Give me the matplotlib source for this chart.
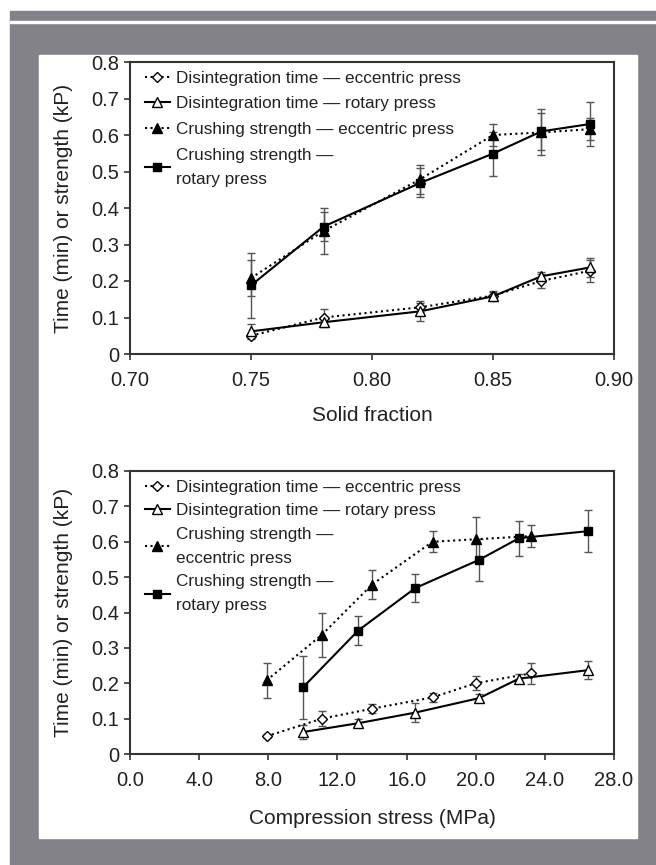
import matplotlib.pyplot as plt
from matplotlib.patches import Rectangle

plt.rcParams['font.family'] = ['Liberation Sans', 'DejaVu Sans']

# solid fraction (top panel)
solid_fraction = [0.75, 0.78, 0.82, 0.85, 0.87, 0.89]

# compression stress (bottom panel), eccentric vs rotary press
stress_ecc = [7.9, 11.1, 14.0, 17.5, 20.0, 23.2]
stress_rot = [10.0, 13.2, 16.5, 20.2, 22.5, 26.5]

dis_ecc = [0.05, 0.10, 0.128, 0.16, 0.20, 0.228]
dis_ecc_err = [0.006, 0.022, 0.012, 0.012, 0.02, 0.03]
dis_rot = [0.062, 0.087, 0.117, 0.158, 0.213, 0.237]
dis_rot_err = [0.02, 0.012, 0.027, 0.012, 0.012, 0.025]
crush_ecc = [0.208, 0.337, 0.479, 0.600, 0.607, 0.616]
crush_ecc_err = [0.05, 0.062, 0.04, 0.03, 0.063, 0.03]
crush_rot = [0.188, 0.349, 0.469, 0.549, 0.610, 0.630]
crush_rot_err = [0.09, 0.04, 0.04, 0.06, 0.05, 0.06]

labels_top = ['Disintegration time \u2014 eccentric press',
              'Disintegration time \u2014 rotary press',
              'Crushing strength \u2014 eccentric press',
              'Crushing strength \u2014\nrotary press']
labels_bot = ['Disintegration time \u2014 eccentric press',
              'Disintegration time \u2014 rotary press',
              'Crushing strength \u2014\neccentric press',
              'Crushing strength \u2014\nrotary press']

W, H = 656, 865
fig = plt.figure(figsize=(W / 100, H / 100), dpi=100)

gray = '#838289'
def px_rect(x0, y0, x1, y1, color, z):
    fig.patches.append(Rectangle((x0 / W, 1 - y1 / H), (x1 - x0) / W, (y1 - y0) / H,
                                 transform=fig.transFigure, color=color, zorder=z))

px_rect(10, 11, 656, 865, gray, -3)
px_rect(10, 21, 656, 23, 'white', -2)
px_rect(39, 55, 637, 838, 'white', -2)

err_color = '#555555'


def draw(ax, x_ecc, x_rot, labels, spacing):
    styles = [
        (x_ecc, dis_ecc, dis_ecc_err, ':', 'D', 'white', 5),
        (x_rot, dis_rot, dis_rot_err, '-', '^', 'white', 7),
        (x_ecc, crush_ecc, crush_ecc_err, ':', '^', 'black', 7),
        (x_rot, crush_rot, crush_rot_err, '-', 's', 'black', 6),
    ]
    for (x, y, e, ls, m, fc, ms), lab in zip(styles, labels):
        ax.errorbar(x, y, yerr=e, fmt='none', ecolor=err_color, elinewidth=1.0,
                    capsize=3, capthick=1.0, zorder=2)
        ax.plot(x, y, linestyle=ls, color='black', lw=1.5, marker=m, ms=ms,
                mfc=fc, mec='black', mew=1.0, label=lab, zorder=3)
    ax.set_ylim(0, 0.8)
    ax.set_yticks([0, 0.1, 0.2, 0.3, 0.4, 0.5, 0.6, 0.7, 0.8])
    ax.set_yticklabels(['0', '0.1', '0.2', '0.3', '0.4', '0.5', '0.6', '0.7', '0.8'])
    ax.set_ylabel('Time (min) or strength (kP)', fontsize=15, labelpad=13,
                  color='#222222')
    ax.tick_params(labelsize=14.5, direction='out', length=4, width=1.2, color='#333333',
                   labelcolor='#222222')
    ax.tick_params(axis='x', pad=8)
    ax.tick_params(axis='y', pad=4)
    for s in ax.spines.values():
        s.set_linewidth(1.5)
        s.set_color('#333333')
    leg = ax.legend(loc='upper left', frameon=False, fontsize=12.3, handlelength=1.45,
                    handletextpad=0.35, labelspacing=spacing, borderaxespad=0.2,
                    bbox_to_anchor=(0.01, 1.005))
    for t in leg.get_texts():
        t.set_color('#222222')
        t.set_linespacing(1.75)


ax1 = fig.add_axes([130 / W, 1 - 354 / H, (614 - 130) / W, (354 - 62) / H])
draw(ax1, solid_fraction, solid_fraction, labels_top, 0.62)
ax1.set_xlim(0.70, 0.90)
ax1.set_xticks([0.70, 0.75, 0.80, 0.85, 0.90])
ax1.set_xticklabels(['0.70', '0.75', '0.80', '0.85', '0.90'])
ax1.set_xlabel('Solid fraction', fontsize=15, labelpad=12, color='#222222')

ax2 = fig.add_axes([130 / W, 1 - 754 / H, (614 - 130) / W, (754 - 471) / H])
draw(ax2, stress_ecc, stress_rot, labels_bot, 0.5)
ax2.set_xlim(0, 28)
ax2.set_xticks([0, 4, 8, 12, 16, 20, 24, 28])
ax2.set_xticklabels(['0.0', '4.0', '8.0', '12.0', '16.0', '20.0', '24.0', '28.0'])
ax2.set_xlabel('Compression stress (MPa)', fontsize=15, labelpad=14, color='#222222')

fig.savefig('out.png', dpi=100)
